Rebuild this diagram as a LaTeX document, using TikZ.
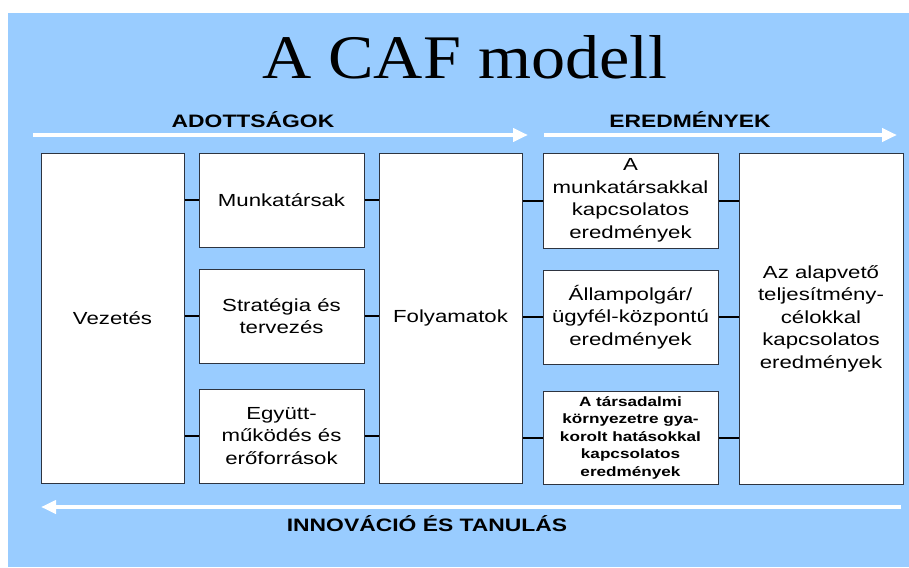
\documentclass[tikz,border=0pt]{standalone}
\usepackage{fontspec}
\usetikzlibrary{arrows.meta}
\newfontfamily\boxfont[FakeStretch=1.27]{Liberation Sans}
\newfontfamily\titlefont[FakeStretch=1.1]{Liberation Serif}
\definecolor{bgblue}{HTML}{99CCFF}
\definecolor{edgecol}{HTML}{2E3440}
\begin{document}
\begin{tikzpicture}[x=1pt,y=-1pt,
  box/.style={draw=edgecol,fill=white,line width=1pt,inner sep=0pt,align=center,
    font=\boxfont\fontsize{17.5}{22.5}\selectfont},
  smallbox/.style={box,font=\boxfont\bfseries\fontsize{13.5}{17.5}\selectfont},
  conn/.style={line width=2pt,black},
  bigarrow/.style={white,line width=4pt,-{Triangle[length=15pt,width=13pt]}},
  heading/.style={font=\boxfont\bfseries\fontsize{18}{20}\selectfont,anchor=base,inner sep=0pt}
]
\useasboundingbox (0,0) rectangle (909,567);
\fill[bgblue] (8,13) rectangle (909,567);

\node[anchor=base,inner sep=0pt,font=\titlefont\fontsize{62}{70}\selectfont] (title) at (465,79) {A CAF modell};

\node[heading] (adott) at (253,127) {ADOTTSÁGOK};
\node[heading] (ered) at (690,127) {EREDMÉNYEK};
\node[heading] (innov) at (427,531) {INNOVÁCIÓ ÉS TANULÁS};

\coordinate (a1s) at (33,135);
\coordinate (a1e) at (528,135);
\coordinate (a2s) at (544,135);
\coordinate (a2e) at (897,135);
\coordinate (a3s) at (901,507);
\coordinate (a3e) at (41,507);
\draw[bigarrow] (a1s) -- (a1e);
\draw[bigarrow] (a2s) -- (a2e);
\draw[bigarrow] (a3s) -- (a3e);

\node[box,minimum width=143pt,minimum height=330pt] (vez) at (112.5,318) {Vezetés};
\node[box,minimum width=165pt,minimum height=94pt] (m1) at (281.5,200) {Munkatársak};
\node[box,minimum width=165pt,minimum height=94pt] (m2) at (281.5,316) {Stratégia és\\tervezés};
\node[box,minimum width=165pt,minimum height=94pt] (m3) at (281.5,436) {Együtt-\\működés és\\erőforrások};
\node[box,minimum width=143pt,minimum height=330pt] (fol) at (450.5,318) {Folyamatok};
\node[box,minimum width=175pt,minimum height=95pt] (r1) at (630.5,200.5) {A\\munkatársakkal\\kapcsolatos\\eredmények};
\node[box,minimum width=175pt,minimum height=94pt] (r2) at (630.5,317) {Állampolgár/\\ügyfél-központú\\eredmények};
\node[smallbox,minimum width=175pt,minimum height=93pt] (r3) at (630.5,437.5) {A társadalmi\\környezetre gya-\\korolt hatásokkal\\kapcsolatos\\eredmények};
\node[box,minimum width=164pt,minimum height=331pt] (res) at (821,318.5) {Az alapvető\\teljesítmény-\\célokkal\\kapcsolatos\\eredmények};

\draw[conn] (vez.east |- m1.west) -- (m1.west);
\draw[conn] (vez.east |- m2.west) -- (m2.west);
\draw[conn] (vez.east |- m3.west) -- (m3.west);
\draw[conn] (m1.east) -- (m1.east -| fol.west);
\draw[conn] (m2.east) -- (m2.east -| fol.west);
\draw[conn] (m3.east) -- (m3.east -| fol.west);
\draw[conn] (fol.east |- r1.west) -- (r1.west);
\draw[conn] (fol.east |- r2.west) -- (r2.west);
\draw[conn] (fol.east |- r3.west) -- (r3.west);
\draw[conn] (r1.east) -- (r1.east -| res.west);
\draw[conn] (r2.east) -- (r2.east -| res.west);
\draw[conn] (r3.east) -- (r3.east -| res.west);
\end{tikzpicture}
\end{document}
